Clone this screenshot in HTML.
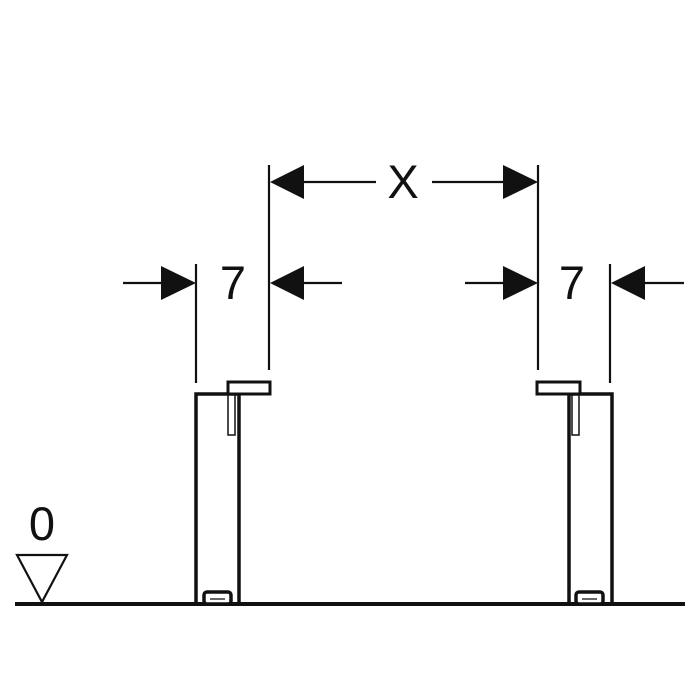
<!DOCTYPE html>
<html><head><style>body{margin:0;background:#fff}svg{display:block}</style></head><body>
<svg width="700" height="700" viewBox="0 0 700 700" xmlns="http://www.w3.org/2000/svg">
<rect width="700" height="700" fill="#fff"/>
<g stroke="#111" fill="none">
<line x1="15" y1="604" x2="685" y2="604" stroke-width="4"/>
<line x1="196" y1="264" x2="196" y2="383" stroke-width="2.2"/>
<line x1="269" y1="165" x2="269" y2="370" stroke-width="2.2"/>
<line x1="538" y1="165" x2="538" y2="370" stroke-width="2.2"/>
<line x1="610" y1="264" x2="610" y2="383" stroke-width="2.2"/>
<line x1="123" y1="283" x2="165" y2="283" stroke-width="2.2"/>
<line x1="300" y1="283" x2="342" y2="283" stroke-width="2.2"/>
<line x1="465" y1="283" x2="506" y2="283" stroke-width="2.2"/>
<line x1="642" y1="283" x2="684" y2="283" stroke-width="2.2"/>
<line x1="300" y1="182" x2="376" y2="182" stroke-width="2.2"/>
<line x1="432" y1="182" x2="506" y2="182" stroke-width="2.2"/>
<rect x="196" y="394" width="43" height="210" stroke-width="3.5"/>
<rect x="569" y="394" width="43" height="210" stroke-width="3.5"/>
<rect x="228" y="382" width="42" height="12" stroke-width="3" fill="#fff"/>
<rect x="537" y="382" width="43" height="12" stroke-width="3" fill="#fff"/>
<rect x="228" y="395" width="7" height="40" stroke-width="1.5" fill="#fff"/>
<rect x="572" y="395" width="7" height="40" stroke-width="1.5" fill="#fff"/>
<polygon points="17,555 67,555 42,602" stroke-width="2.2"/>
<rect x="204" y="592" width="27" height="12" rx="3" stroke-width="3.5" fill="#fff"/>
<rect x="576" y="592" width="27" height="12" rx="3" stroke-width="3.5" fill="#fff"/>
</g>
<g fill="#111">
<polygon points="161,266 196,283 161,300"/>
<polygon points="304,266 270,283 304,300"/>
<polygon points="503,266 538,283 503,300"/>
<polygon points="645,266 611,283 645,300"/>
<polygon points="304,165 270,182 304,199"/>
<polygon points="503,165 538,182 503,199"/>
</g>
<rect x="210" y="598" width="15" height="2" fill="#666"/>
<rect x="582" y="598" width="15" height="2" fill="#666"/>
<g font-family="Liberation Sans, sans-serif" font-size="47" fill="#111" text-anchor="middle">
<text x="233" y="299">7</text>
<text x="572" y="299">7</text>
<text x="403" y="198">X</text>
<text x="42" y="540">0</text>
</g>
</svg>
</body></html>
